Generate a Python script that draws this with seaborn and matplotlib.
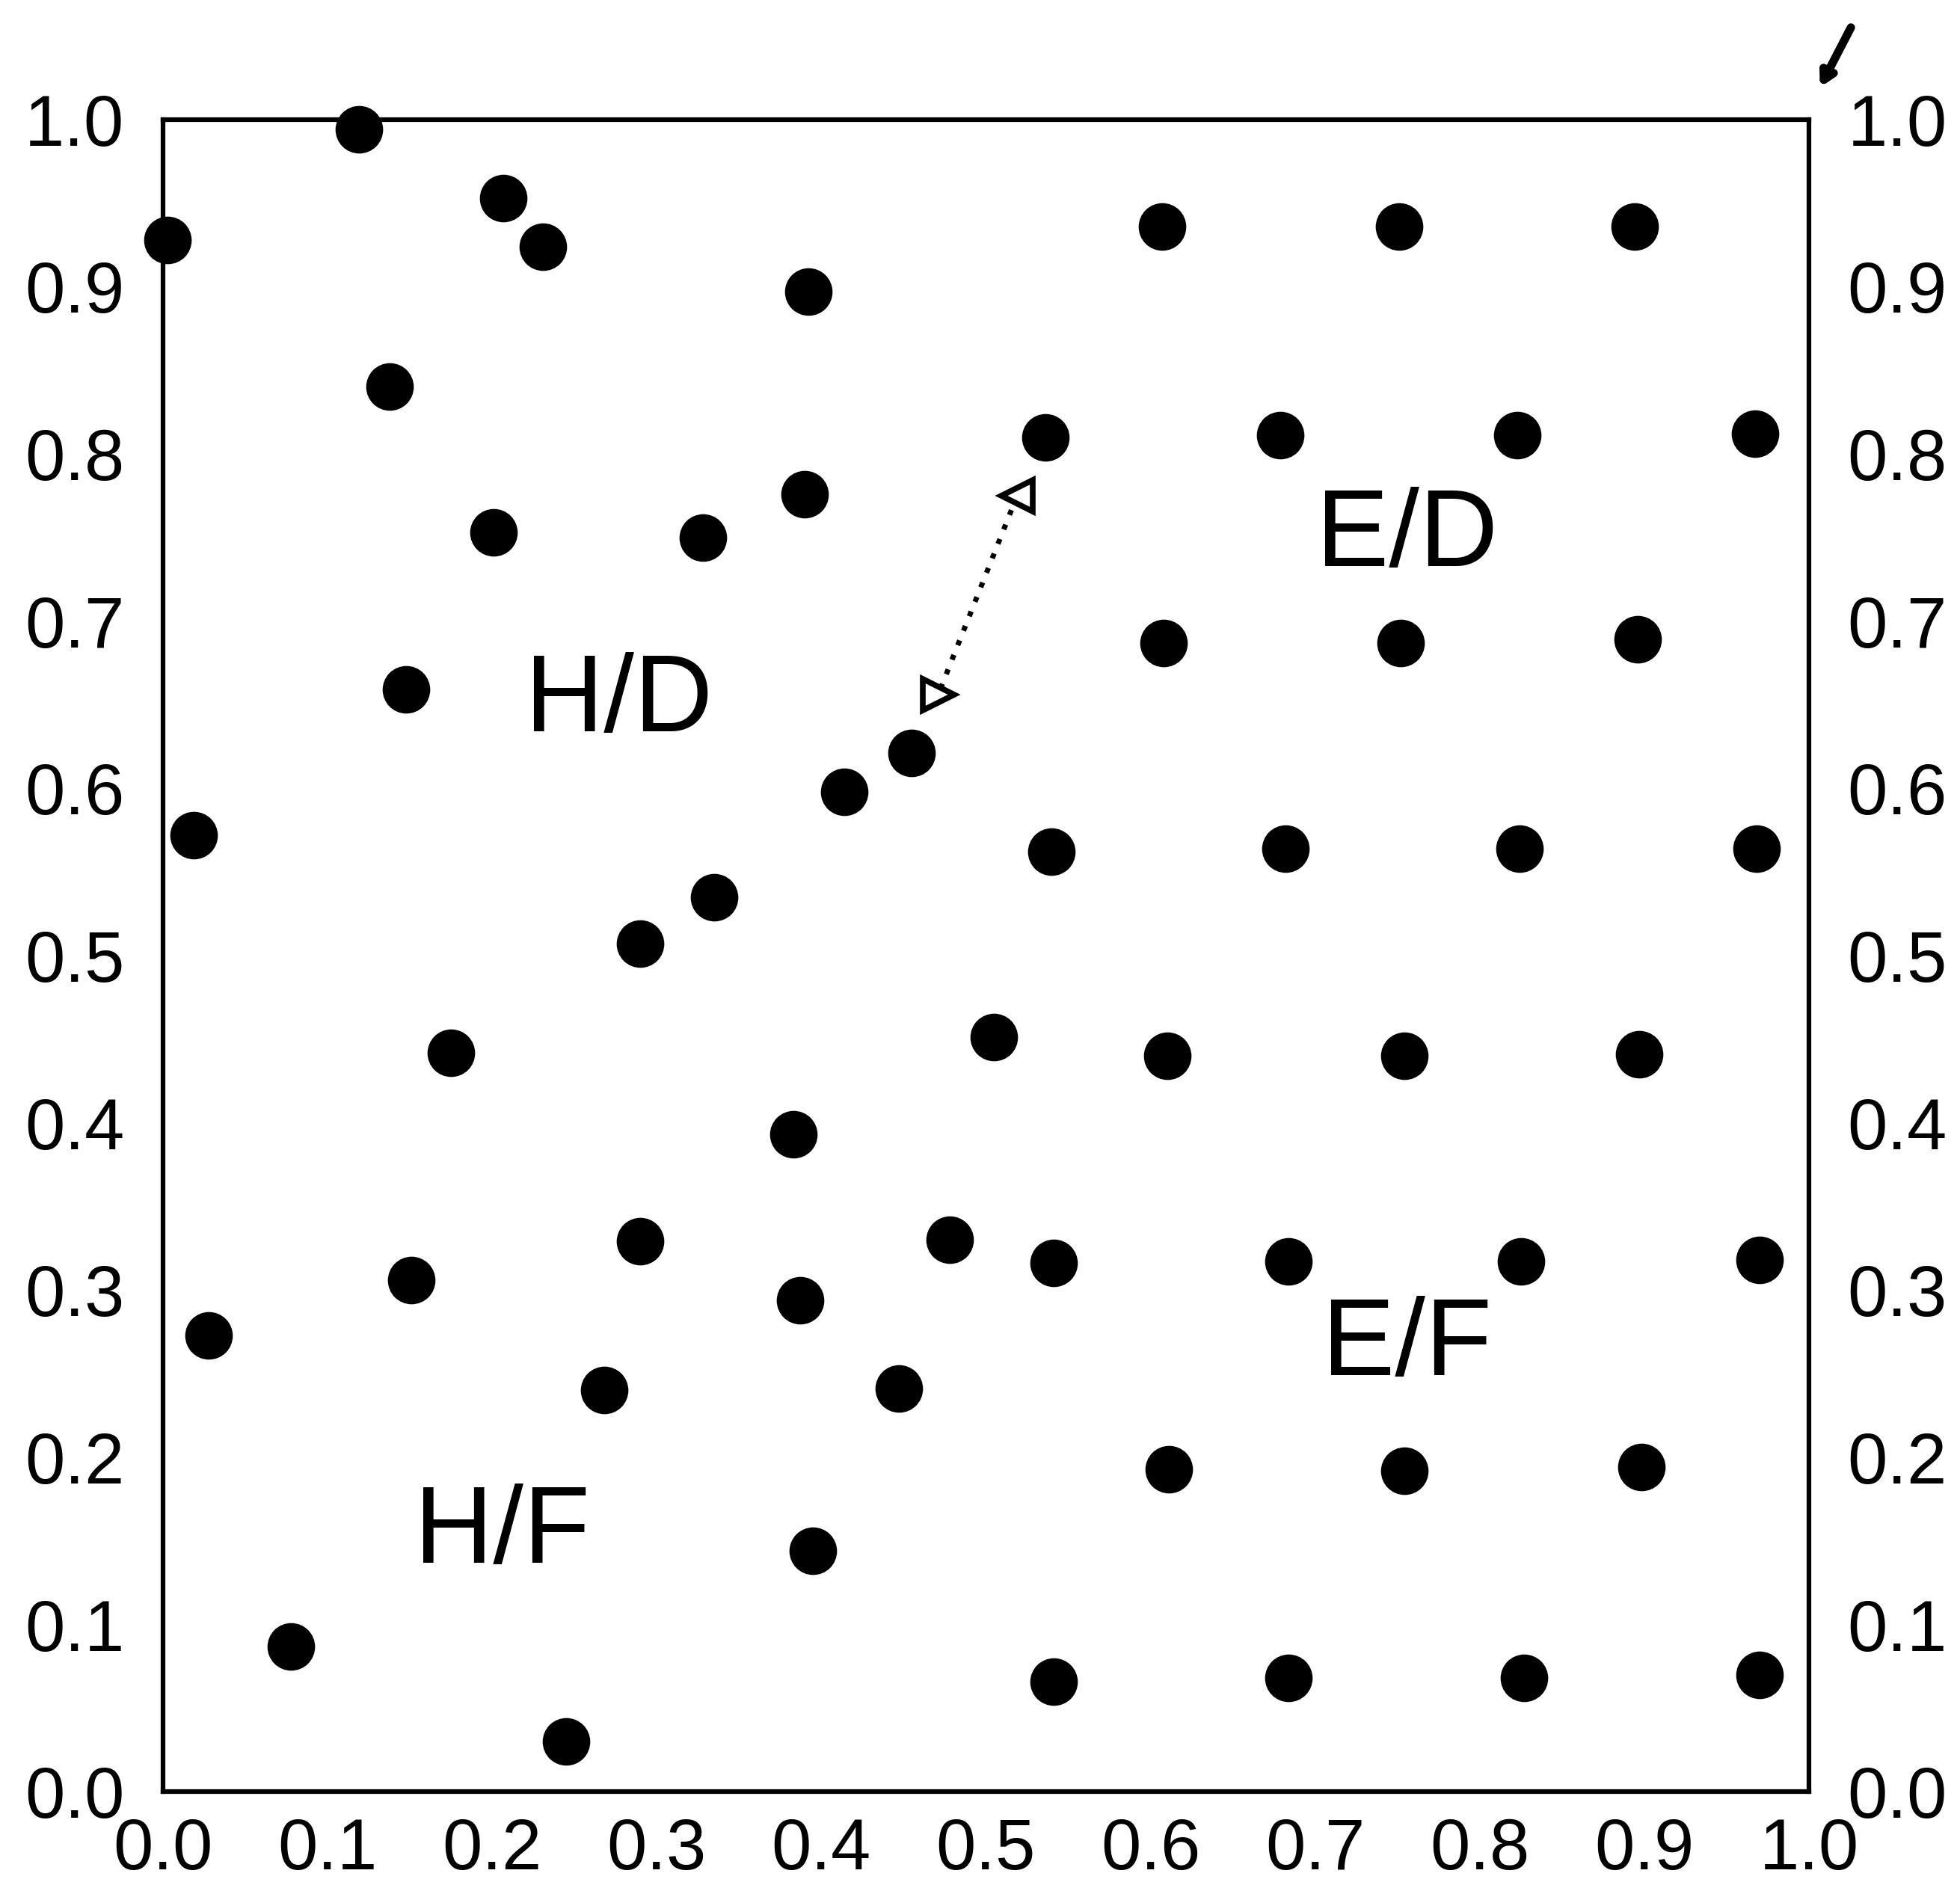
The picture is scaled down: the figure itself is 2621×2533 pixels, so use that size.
import pandas as pd
import seaborn as sns
import matplotlib
matplotlib.use("Agg")
import matplotlib.pyplot as plt

# point positions
dot_x = [0.003, 0.119, 0.207, 0.231, 0.392, 0.138, 0.607, 0.751, 0.894, 0.536,
         0.679, 0.823, 0.967, 0.390, 0.201, 0.328, 0.608, 0.752, 0.896, 0.148,
         0.455, 0.414, 0.019, 0.540, 0.682, 0.824, 0.968, 0.335, 0.290, 0.175,
         0.505, 0.610, 0.754, 0.897, 0.383, 0.290, 0.478, 0.151, 0.541, 0.684,
         0.825, 0.970, 0.387, 0.028, 0.268, 0.447, 0.611, 0.754, 0.898, 0.395,
         0.078, 0.541, 0.684, 0.827, 0.970, 0.245]
dot_y = [0.928, 0.994, 0.953, 0.924, 0.897, 0.840, 0.936, 0.936, 0.936, 0.810,
         0.811, 0.811, 0.812, 0.776, 0.753, 0.750, 0.687, 0.687, 0.689, 0.659,
         0.621, 0.598, 0.572, 0.562, 0.564, 0.564, 0.564, 0.535, 0.507, 0.442,
         0.451, 0.440, 0.440, 0.441, 0.393, 0.329, 0.330, 0.306, 0.316, 0.317,
         0.317, 0.318, 0.294, 0.273, 0.240, 0.241, 0.193, 0.192, 0.194, 0.144,
         0.087, 0.066, 0.068, 0.068, 0.070, 0.030]

# dotted link between the two open triangles
link_x = [0.519, 0.471]
link_y = [0.775, 0.656]

region_labels = ["H/D", "E/D", "E/F", "H/F"]
region_x = [0.277, 0.756, 0.756, 0.206]
region_y = [0.651, 0.750, 0.266, 0.154]

ticks = [0.0, 0.1, 0.2, 0.3, 0.4, 0.5, 0.6, 0.7, 0.8, 0.9, 1.0]
tick_labels = ["0.0", "0.1", "0.2", "0.3", "0.4", "0.5", "0.6", "0.7", "0.8", "0.9", "1.0"]

sns.set_style("white")
plt.rcParams["font.family"] = ["Liberation Sans", "DejaVu Sans"]

df = pd.DataFrame({"x": dot_x, "y": dot_y})

fig = plt.figure(figsize=(26.21, 25.33), dpi=100)
ax = fig.add_axes([0.083, 0.054, 0.840, 0.883])

sns.scatterplot(data=df, x="x", y="y", ax=ax, s=2100, color="black",
                edgecolor="black", linewidth=0, clip_on=False, zorder=3)

ax.plot(link_x, link_y, color="black", linestyle=(0, (1, 2.0)), linewidth=5,
        zorder=2)
ax.plot(link_x[0], link_y[0], marker="<", markersize=30, markerfacecolor="white",
        markeredgecolor="black", markeredgewidth=5.5, zorder=4)
ax.plot(link_x[1], link_y[1], marker=">", markersize=30, markerfacecolor="white",
        markeredgecolor="black", markeredgewidth=5.5, zorder=4)

for lab, tx, ty in zip(region_labels, region_x, region_y):
    ax.text(tx, ty, lab, fontsize=105, ha="center", va="center", color="black")

# little arrow at the top right corner
ax.annotate("", xy=(1.006, 1.018), xytext=(1.026, 1.056), xycoords="data",
            arrowprops=dict(arrowstyle="-|>,head_length=1.0,head_width=0.55",
                            color="black", lw=8), annotation_clip=False)

ax.set_xlim(0, 1)
ax.set_ylim(0, 1)
ax.set_xticks(ticks)
ax.set_xticklabels(tick_labels)
ax.set_yticks(ticks)
ax.set_yticklabels(tick_labels)
ax.set_xlabel("")
ax.set_ylabel("")
ax.tick_params(axis="x", length=0, pad=24, labelsize=69, labelcolor="black")
ax.tick_params(axis="y", length=0, pad=37, labelsize=69, labelcolor="black",
               left=True, right=True, labelleft=True, labelright=True)
for t in ax.yaxis.get_major_ticks():
    t.tick2line.set_visible(False)
    t.label2.set_visible(True)

for sp in ax.spines.values():
    sp.set_visible(True)
    sp.set_color("black")
    sp.set_linewidth(4.5)

fig.savefig("out.png", dpi=100, facecolor="white")
